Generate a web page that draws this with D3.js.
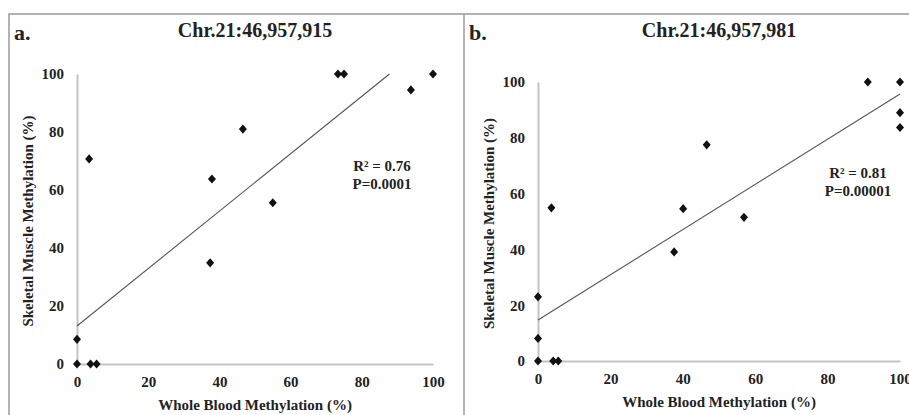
<!DOCTYPE html>
<html>
<head>
<meta charset="utf-8">
<script src="https://cdn.jsdelivr.net/npm/d3@7"></script>
<style>
  body { margin: 0; background: #fff; }
  text { font-family: "Liberation Serif", "Times New Roman", serif; font-weight: bold; fill: #222; }
</style>
</head>
<body>
<div id="chart"></div>
<script>
var svgWidth = 909;
var svgHeight = 415;

// values
var ticks = [0, 20, 40, 60, 80, 100];
var titles = ["Chr.21:46,957,915", "Chr.21:46,957,981"];
var letters = ["a.", "b."];
var statsA = ["R\u00b2 = 0.76", "P=0.0001"];
var statsB = ["R\u00b2 = 0.81", "P=0.00001"];

var bloodA = [0, 0, 3.8, 5.5, 3.4, 37.4, 37.9, 46.6, 55, 73.3, 75, 93.8, 100];
var muscleA = [0, 8.5, 0, 0, 70.7, 34.9, 63.8, 81, 55.6, 100, 100, 94.5, 100];
var bloodB = [0, 0, 0, 4.2, 5.6, 3.7, 37.6, 40.1, 46.6, 56.9, 91.1, 100, 100, 100];
var muscleB = [0, 8.1, 23, 0, 0, 54.9, 39.1, 54.6, 77.5, 51.5, 100, 100, 89, 83.7];

// trend line: [intercept, slope]
var trendA = [13.1, 0.99];
var trendB = [14.7, 0.81];

var svg = d3.select("#chart")
    .append("svg")
    .attr("width", svgWidth)
    .attr("height", svgHeight);

// frame
svg.append("path")
    .attr("d", "M9,415V14H909M464,14V415")
    .attr("fill", "none")
    .attr("stroke", "#9a9a9a")
    .attr("stroke-width", 1.5);

var diamond = {
    draw: function(ctx) {
        ctx.moveTo(0, -4.6);
        ctx.lineTo(4, 0);
        ctx.lineTo(0, 4.6);
        ctx.lineTo(-4, 0);
        ctx.closePath();
    }
};

var panels = [
    {left: 77, right: 433, top: 74, bottom: 364, frameX: 9, mid: 255, yLabelX: 28,
     x: bloodA, y: muscleA, trend: trendA, stats: statsA, statsX: 382, statsY: 171},
    {left: 538, right: 900, top: 82, bottom: 361, frameX: 464, mid: 719, yLabelX: 489,
     x: bloodB, y: muscleB, trend: trendB, stats: statsB, statsX: 858, statsY: 178}
];

panels.forEach(function(p, i) {
    var g = svg.append("g");

    var xScale = d3.scaleLinear().domain([0, 100]).range([p.left, p.right]);
    var yScale = d3.scaleLinear().domain([0, 100]).range([p.bottom, p.top]);

    //Axes, no tick marks, grey lines
    var bottomAxis = d3.axisBottom(xScale).tickValues(ticks).tickSize(0).tickPadding(12);
    var leftAxis = d3.axisLeft(yScale).tickValues(ticks).tickSize(0).tickPadding(13);

    var xg = g.append("g")
        .attr("transform", `translate(0, ${p.bottom})`)
        .call(bottomAxis);
    var yg = g.append("g")
        .attr("transform", `translate(${p.left}, 0)`)
        .call(leftAxis);

    [xg, yg].forEach(function(a) {
        a.select(".domain").attr("stroke", "#c4c4c4").attr("stroke-width", 2);
        a.selectAll("text")
            .style("font-family", "Liberation Serif")
            .style("font-weight", "bold")
            .style("font-size", "15px")
            .attr("fill", "#333");
    });

    //Trend line, stops at the top of the plot
    var x0 = 0;
    var x1 = Math.min(100, (100 - p.trend[0]) / p.trend[1]);
    g.append("line")
        .attr("x1", xScale(x0))
        .attr("y1", yScale(p.trend[0] + p.trend[1] * x0))
        .attr("x2", xScale(x1))
        .attr("y2", yScale(p.trend[0] + p.trend[1] * x1))
        .attr("stroke", "#555")
        .attr("stroke-width", 1.1);

    //Points
    g.selectAll(".pt")
        .data(p.x)
        .enter()
        .append("path")
        .attr("class", "pt")
        .attr("d", d3.symbol().type(diamond))
        .attr("transform", (d, j) => `translate(${xScale(d)}, ${yScale(p.y[j])})`)
        .attr("fill", "#111");

    //Titles and labels
    g.append("text")
        .attr("x", p.frameX + 5)
        .attr("y", 40)
        .style("font-size", "22px")
        .text(letters[i]);

    g.append("text")
        .attr("x", p.mid)
        .attr("y", 37)
        .attr("text-anchor", "middle")
        .style("font-size", "20px")
        .text(titles[i]);

    g.append("text")
        .attr("transform", `translate(${p.yLabelX}, ${(p.top + p.bottom) / 2 + 2}) rotate(-90)`)
        .attr("text-anchor", "middle")
        .attr("dy", "0.35em")
        .style("font-size", "15px")
        .text("Skeletal Muscle Methylation (%)");

    g.append("text")
        .attr("x", p.mid)
        .attr("y", p.bottom + 46)
        .attr("text-anchor", "middle")
        .style("font-size", "15px")
        .text("Whole Blood Methylation (%)");

    g.selectAll(".stat")
        .data(p.stats)
        .enter()
        .append("text")
        .attr("class", "stat")
        .attr("x", p.statsX)
        .attr("y", (d, j) => p.statsY + j * 18)
        .attr("text-anchor", "middle")
        .style("font-size", "15px")
        .text(d => d);
});
</script>
</body>
</html>
